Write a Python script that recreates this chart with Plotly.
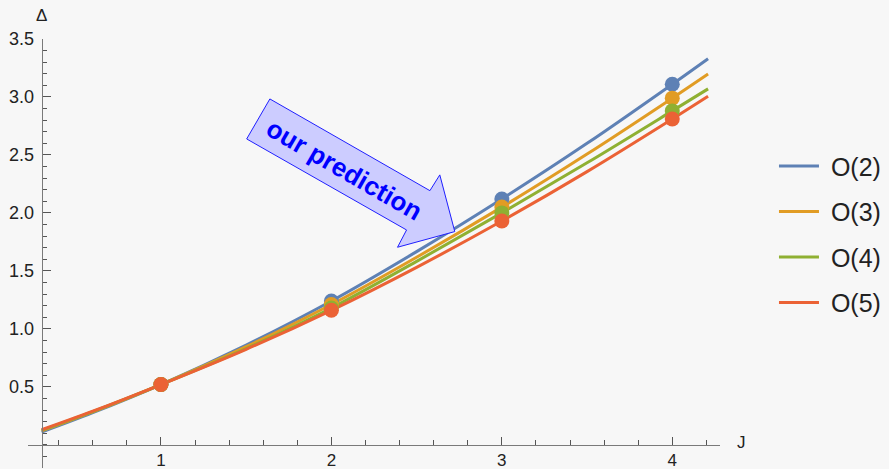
import plotly.graph_objects as go

# Data: scaling dimension Delta versus spin J for the O(N) models
J_points = [1, 2, 3, 4]
delta_o2 = [0.52, 1.24, 2.12, 3.11]
delta_o3 = [0.52, 1.21, 2.05, 2.99]
delta_o4 = [0.52, 1.18, 2.00, 2.88]
delta_o5 = [0.52, 1.16, 1.93, 2.81]

# Sampled fitted curves through the data
J_curve = [0.3, 0.6, 1.0, 1.5, 2.0, 2.5, 3.0, 3.5, 4.0, 4.21]
curve_o2 = [0.11, 0.277, 0.52, 0.86, 1.24, 1.666, 2.12, 2.60, 3.11, 3.33]
curve_o3 = [0.12, 0.284, 0.52, 0.846, 1.21, 1.618, 2.05, 2.508, 2.99, 3.198]
curve_o4 = [0.125, 0.287, 0.52, 0.83, 1.18, 1.582, 2.00, 2.432, 2.88, 3.07]
curve_o5 = [0.13, 0.29, 0.52, 0.824, 1.16, 1.531, 1.93, 2.356, 2.81, 3.006]

series_names = ["O(2)", "O(3)", "O(4)", "O(5)"]
colors = ["#5E81B5", "#E19C24", "#8FB032", "#EB6235"]
curves = [curve_o2, curve_o3, curve_o4, curve_o5]
points = [delta_o2, delta_o3, delta_o4, delta_o5]

x_ticks = [1, 2, 3, 4]
y_ticks = [0.5, 1.0, 1.5, 2.0, 2.5, 3.0, 3.5]

x_range = [0.22, 4.28]
y_range = [-0.2, 3.5]
axes_origin = (0.3, 0.0)

# Block arrow outline (data coordinates) and its label
arrow_x = [1.639, 1.503, 2.441, 2.388, 2.724, 2.636, 2.578]
arrow_y = [2.983, 2.638, 1.853, 1.704, 1.839, 2.328, 2.192]

fig = go.Figure()

for name, col, cy in zip(series_names, colors, curves):
    fig.add_trace(go.Scatter(
        x=J_curve, y=cy, mode="lines", name="\u00a0" + name,
        line=dict(color=col, width=3, shape="spline"),
        legendgroup=name, cliponaxis=False,
    ))

for name, col, py in zip(series_names, colors, points):
    fig.add_trace(go.Scatter(
        x=J_points, y=py, mode="markers", name=name,
        marker=dict(color=col, size=15, line=dict(width=0)),
        legendgroup=name, showlegend=False, cliponaxis=False,
    ))

path = "M " + " L ".join(f"{x},{y}" for x, y in zip(arrow_x, arrow_y)) + " Z"
fig.add_shape(type="path", path=path, xref="x", yref="y",
              fillcolor="#CCCCFF", line=dict(color="#1F1FFF", width=1),
              layer="above")

fig.add_annotation(x=2.079, y=2.371, xref="x", yref="y",
                   text="<b>our prediction</b>", showarrow=False,
                   textangle=30,
                   font=dict(family="Liberation Sans, Arial", size=26,
                             color="#0000FF"))

# Axis labels at the ends of the axes
fig.add_annotation(x=axes_origin[0], y=y_range[1], xref="x", yref="y",
                   text="Δ", showarrow=False, yshift=24,
                   font=dict(family="Liberation Sans, Arial", size=17,
                             color="#222"))
fig.add_annotation(x=x_range[1], y=axes_origin[1], xref="x", yref="y",
                   text="J", showarrow=False, xshift=21, yshift=2,
                   font=dict(family="Liberation Sans, Arial", size=17,
                             color="#222"))

# Axes cross at the axes origin rather than at the frame edges
x_pos = (axes_origin[1] - y_range[0]) / (y_range[1] - y_range[0])
y_pos = (axes_origin[0] - x_range[0]) / (x_range[1] - x_range[0])

axis_col = "#7A7A7A"
tick_font = dict(family="Liberation Sans, Arial", size=18, color="#222")

fig.update_layout(
    width=889, height=469,
    margin=dict(l=28, r=169, t=39, b=1),
    paper_bgcolor="#F7F7F7",
    plot_bgcolor="#F7F7F7",
    showlegend=True,
    legend=dict(
        x=1.078, y=0.545, xanchor="left", yanchor="middle",
        font=dict(family="Liberation Sans, Arial", size=25, color="#222"),
        bgcolor="rgba(0,0,0,0)", traceorder="grouped",
        tracegroupgap=10, itemwidth=40,
    ),
    xaxis=dict(
        range=x_range, anchor="free", position=x_pos, automargin=False,
        showgrid=False, zeroline=False,
        showline=True, linecolor=axis_col, linewidth=1,
        tickmode="array", tickvals=x_ticks, ticktext=[str(v) for v in x_ticks],
        ticks="inside", ticklen=8, tickcolor="#555", tickwidth=1,
        ticklabelstandoff=0,
        minor=dict(dtick=0.2, tick0=0, ticks="inside", ticklen=5,
                   tickcolor="#555", showgrid=False),
        tickfont=dict(family="Liberation Sans, Arial", size=17, color="#222"),
    ),
    yaxis=dict(
        range=y_range, anchor="free", position=y_pos, automargin=False,
        showgrid=False, zeroline=False,
        showline=True, linecolor=axis_col, linewidth=1,
        tickmode="array", tickvals=y_ticks,
        ticktext=[f"{v:.1f}" for v in y_ticks],
        ticks="inside", ticklen=8, tickcolor="#555", tickwidth=1,
        ticklabelstandoff=4,
        minor=dict(dtick=0.1, tick0=0, ticks="inside", ticklen=4,
                   tickcolor="#555", showgrid=False),
        tickfont=tick_font,
    ),
)

fig.write_html("out.html")
